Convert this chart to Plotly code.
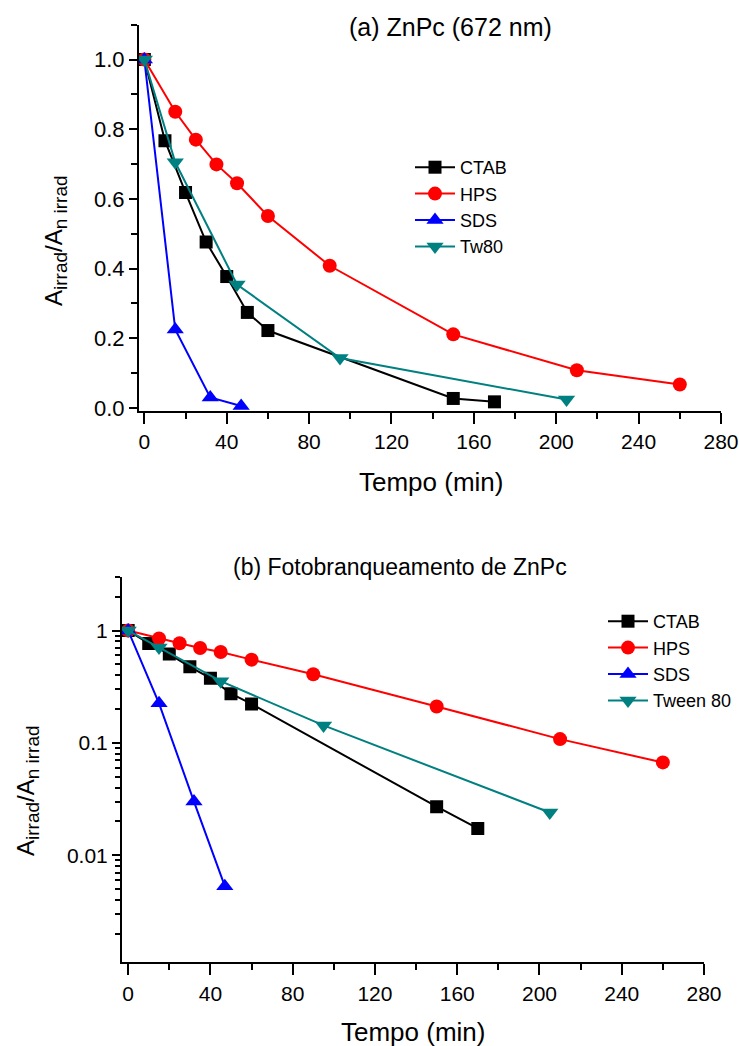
import plotly.graph_objects as go

# ---------------- data ----------------
ctab_t = [0, 10, 20, 30, 40, 50, 60, 150, 170]
ctab_v = [1.0, 0.767, 0.618, 0.476, 0.377, 0.274, 0.222, 0.027, 0.0173]
hps_t = [0, 15, 25, 35, 45, 60, 90, 150, 210, 260]
hps_v = [1.0, 0.850, 0.770, 0.699, 0.645, 0.551, 0.408, 0.211, 0.108, 0.067]
sds_t = [0, 15, 32, 47]
sds_v = [1.0, 0.225, 0.030, 0.0053]
tw_t = [0, 15, 45, 95, 205]
tw_v = [1.0, 0.705, 0.354, 0.143, 0.024]

names_top = ["CTAB", "HPS", "SDS", "Tw80"]
names_bot = ["CTAB", "HPS", "SDS", "Tween 80"]
x_ticks = [0, 40, 80, 120, 160, 200, 240, 280]
y_ticks_top = [0.0, 0.2, 0.4, 0.6, 0.8, 1.0]
y_ticks_bot = [0.01, 0.1, 1]
y_ticktext_bot = ["0.01", "0.1", "1"]
y_minor_bot = [0.002, 0.003, 0.004, 0.005, 0.006, 0.007, 0.008, 0.009,
               0.02, 0.03, 0.04, 0.05, 0.06, 0.07, 0.08, 0.09,
               0.2, 0.3, 0.4, 0.5, 0.6, 0.7, 0.8, 0.9, 2, 3]

series = [
    (ctab_t, ctab_v, "black", "square", 13),
    (hps_t, hps_v, "#ff0000", "circle", 14),
    (sds_t, sds_v, "#0000ff", "triangle-up", 15),
    (tw_t, tw_v, "#008080", "triangle-down", 15),
]

FONT = "Liberation Sans, Arial, sans-serif"
W, H = 739, 1046

fig = go.Figure()
for i, (t, v, c, sym, sz) in enumerate(series):
    fig.add_trace(go.Scatter(x=t, y=v, mode="lines+markers", name=names_top[i],
                             line=dict(color=c, width=2),
                             marker=dict(symbol=sym, size=sz, color=c),
                             xaxis="x", yaxis="y", legend="legend"))
for i, (t, v, c, sym, sz) in enumerate(series):
    fig.add_trace(go.Scatter(x=t, y=v, mode="lines+markers", name=names_bot[i],
                             line=dict(color=c, width=2),
                             marker=dict(symbol=sym, size=sz, color=c),
                             xaxis="x2", yaxis="y2", legend="legend2"))

def px_x(p):
    return p / W

def px_y(p):
    return 1 - p / H

def axis_common(size):
    return dict(showline=True, linecolor="black", linewidth=2, showgrid=False,
                zeroline=False, ticks="outside", tickcolor="black", tickwidth=2,
                automargin=False,
                tickfont=dict(family=FONT, size=size, color="black"))

fig.update_layout(
    width=W, height=H,
    margin=dict(l=0, r=0, t=0, b=0, autoexpand=False),
    paper_bgcolor="white", plot_bgcolor="white",
    font=dict(family=FONT, color="black"),
    xaxis=dict(domain=[px_x(139), px_x(721)], range=[-2.6, 280], anchor="y",
               tickvals=x_ticks, ticklen=11,
               minor=dict(ticks="outside", dtick=20, tick0=0, ticklen=6,
                          tickcolor="black", tickwidth=2),
               **axis_common(21)),
    yaxis=dict(domain=[px_y(411), px_y(24.7)], range=[-0.009, 1.1], anchor="x",
               tickvals=y_ticks_top, tickformat=".1f", ticklen=8,
               minor=dict(ticks="outside", dtick=0.1, tick0=0, ticklen=6,
                          tickcolor="black", tickwidth=2),
               **axis_common(22)),
    xaxis2=dict(domain=[px_x(122), px_x(704)], range=[-3.0, 280], anchor="y2",
                tickvals=x_ticks, ticklen=11,
                minor=dict(ticks="outside", dtick=20, tick0=0, ticklen=6,
                           tickcolor="black", tickwidth=2),
                **axis_common(21)),
    yaxis2=dict(domain=[px_y(962.3), px_y(577)], type="log",
                range=[-2.954, 0.477], anchor="x2",
                tickvals=y_ticks_bot, ticktext=y_ticktext_bot, ticklen=8,
                minor=dict(ticks="outside", tickvals=y_minor_bot, ticklen=5,
                           tickcolor="black", tickwidth=2),
                **axis_common(21)),
    legend=dict(x=px_x(410), y=px_y(149), xanchor="left", yanchor="top",
                bgcolor="rgba(0,0,0,0)", borderwidth=0,
                font=dict(family=FONT, size=18, color="black"),
                tracegroupgap=0, itemwidth=40),
    legend2=dict(x=px_x(603), y=px_y(603), xanchor="left", yanchor="top",
                 bgcolor="rgba(0,0,0,0)", borderwidth=0,
                 font=dict(family=FONT, size=18, color="black"),
                 tracegroupgap=0, itemwidth=40),
)

ytitle = ("A<sub><span style='font-size:19px'>irrad</span></sub>/"
          "A<sub><span style='font-size:19px'>n irrad</span></sub>")

annots = [
    dict(text="(a) ZnPc (672 nm)", x=px_x(450), y=px_y(27), size=25),
    dict(text="(b) Fotobranqueamento de ZnPc", x=px_x(400), y=px_y(567), size=23),
    dict(text="Tempo (min)", x=px_x(431), y=px_y(482), size=26),
    dict(text="Tempo (min)", x=px_x(413), y=px_y(1032), size=26),
]
for a in annots:
    fig.add_annotation(text=a["text"], x=a["x"], y=a["y"], xref="paper", yref="paper",
                       xanchor="center", yanchor="middle", showarrow=False,
                       font=dict(family=FONT, size=a["size"], color="black"))
for (cx, cy) in [(56, 241), (28, 791)]:
    fig.add_annotation(text=ytitle, x=px_x(cx), y=px_y(cy), xref="paper", yref="paper",
                       xanchor="center", yanchor="middle", showarrow=False, textangle=-90,
                       font=dict(family=FONT, size=24, color="black"))

fig.write_html("out.html",
               config={"displayModeBar": False},
               post_script="document.body.style.margin='0';"
                           "document.body.style.overflow='hidden';")
